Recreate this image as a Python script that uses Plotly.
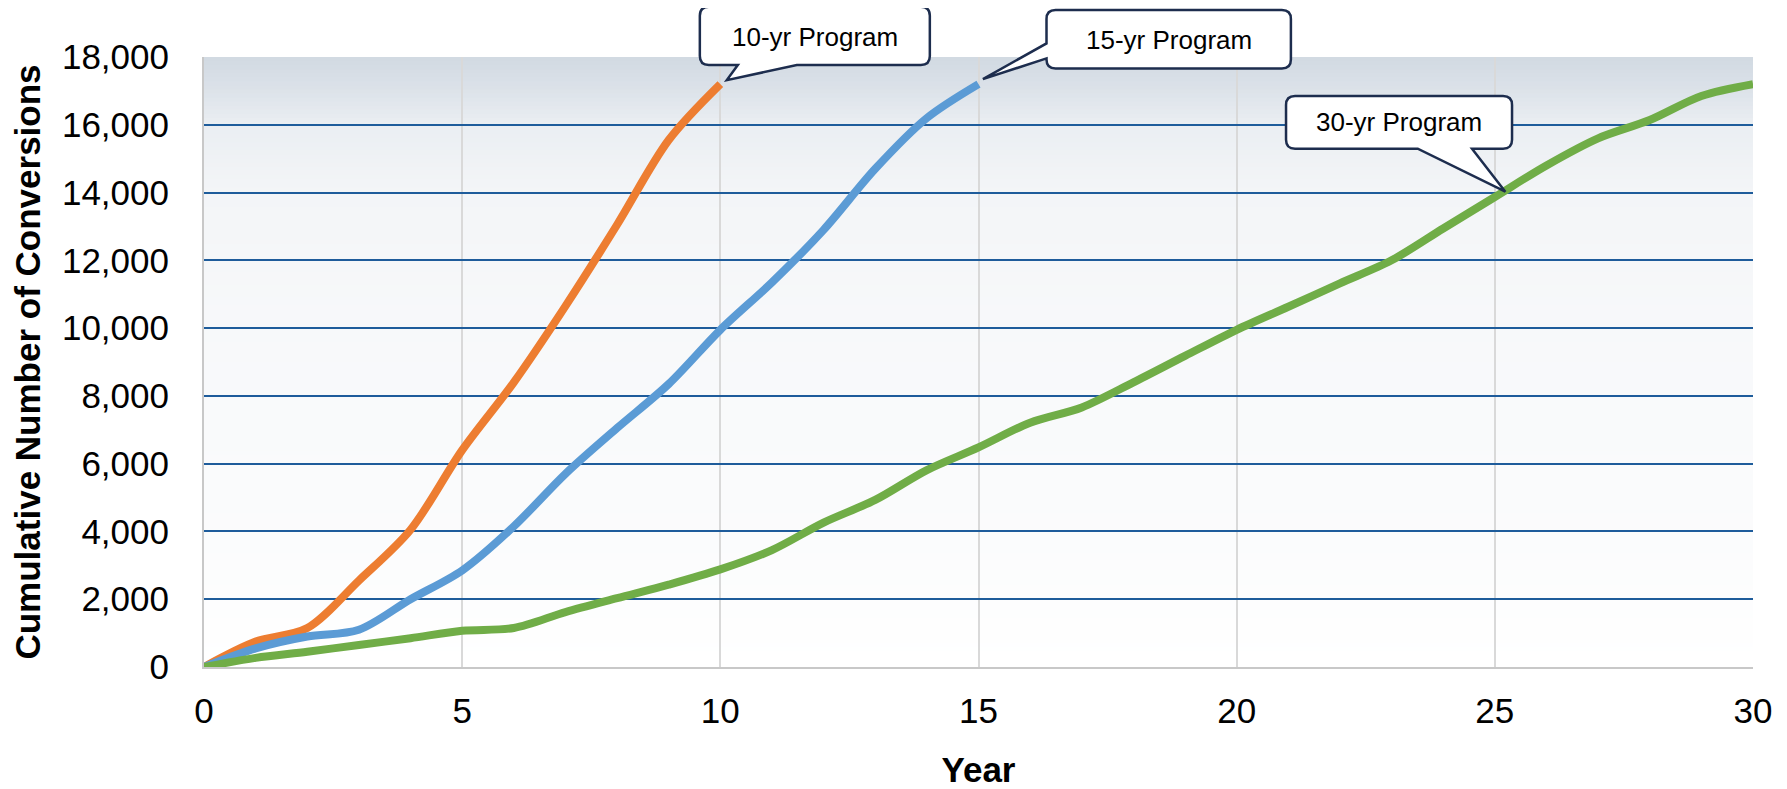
import plotly.graph_objects as go

# ---------------- data ----------------
years_10 = list(range(0, 11))
years_15 = list(range(0, 16))
years_30 = list(range(0, 31))

conv_10 = [0, 750, 1150, 2550, 4050, 6400, 8400, 10650, 13050, 15550, 17200]
conv_15 = [0, 550, 900, 1100, 2000, 2850, 4150, 5700, 7050, 8350, 9950,
           11350, 12900, 14700, 16200, 17200]
conv_30 = [0, 270, 450, 650, 850, 1070, 1150, 1620, 2030, 2430, 2880,
           3450, 4260, 4930, 5810, 6480, 7210, 7660, 8400, 9180, 9950,
           10630, 11320, 12000, 12940, 13870, 14800, 15600, 16140, 16850, 17200]

series_names = ["10-yr Program", "15-yr Program", "30-yr Program"]
series_colors = ["#ED7D31", "#5B9BD5", "#70AD47"]

x_ticks = [0, 5, 10, 15, 20, 25, 30]
y_ticks = [0, 2000, 4000, 6000, 8000, 10000, 12000, 14000, 16000, 18000]

x_title = "Year"
y_title = "Cumulative Number of Conversions"

X_MIN, X_MAX = x_ticks[0], x_ticks[-1]
Y_MIN, Y_MAX = y_ticks[0], y_ticks[-1]

FONT = "Arial, Liberation Sans, sans-serif"

# the page body has a default 8px margin: size the figure so it fits the window
PAGE_PAD = 8
FIG_W, FIG_H = 1787 - PAGE_PAD, 789 - PAGE_PAD

fig = go.Figure()

for xs, ys, name, col in zip([years_10, years_15, years_30],
                             [conv_10, conv_15, conv_30],
                             series_names, series_colors):
    fig.add_trace(go.Scatter(
        x=xs, y=ys, mode="lines", name=name,
        line=dict(color=col, width=8, shape="spline", smoothing=0.9),
        hoverinfo="x+y+name",
    ))

shapes = []

# ---------------- plot-area vertical gradient (background) ----------------
top_rgb = (209, 217, 226)
stops = [(0.0, 1.0), (0.05, 0.78), (0.11, 0.45), (0.22, 0.26),
         (0.44, 0.17), (0.78, 0.09), (1.0, 0.0)]


def fac(t):
    for (t0, f0), (t1, f1) in zip(stops[:-1], stops[1:]):
        if t0 <= t <= t1:
            return f0 + (f1 - f0) * (t - t0) / (t1 - t0)
    return 0.0


N = 150
for i in range(N):
    y0 = i / N
    y1 = (i + 1) / N
    t = 1 - (y0 + y1) / 2  # 0 at top
    f = fac(t)
    c = tuple(round(255 - (255 - tc) * f) for tc in top_rgb)
    shapes.append(dict(
        type="rect", xref="paper", yref="paper", x0=0, x1=1,
        y0=y0, y1=min(1, y1 + 0.002), layer="below",
        fillcolor="rgb(%d,%d,%d)" % c, line=dict(width=0),
    ))


# ---------------- callouts ----------------
def bubble(x0, x1, y0, y1, r, edge, w1, w2, tip):
    tx, ty = tip
    p = ["M%g,%g" % (x0 + r, y1), "L%g,%g" % (x1 - r, y1),
         "Q%g,%g %g,%g" % (x1, y1, x1, y1 - r), "L%g,%g" % (x1, y0 + r),
         "Q%g,%g %g,%g" % (x1, y0, x1 - r, y0)]
    if edge == "bottom":
        p += ["L%g,%g" % (w2, y0), "L%g,%g" % (tx, ty), "L%g,%g" % (w1, y0)]
    p += ["L%g,%g" % (x0 + r, y0), "Q%g,%g %g,%g" % (x0, y0, x0, y0 + r)]
    if edge == "left":
        p += ["L%g,%g" % (x0, w1), "L%g,%g" % (tx, ty), "L%g,%g" % (x0, w2)]
    p += ["L%g,%g" % (x0, y1 - r), "Q%g,%g %g,%g" % (x0, y1, x0 + r, y1), "Z"]
    return " ".join(p)


callouts = [
    dict(ax=years_10[-1], ay=conv_10[-1], box=(-20.5, 209.5, 19, 77.3),
         edge="bottom", w=(17.5, 76.5), tip=(6.5, 4), txt=(94.5, 47.5),
         text=series_names[0]),
    dict(ax=years_15[-1], ay=conv_15[-1], box=(68, 312.4, 15.5, 74),
         edge="left", w=(25.7, 40.7), tip=(4.4, 5), txt=(190.4, 44.5),
         text=series_names[1]),
    dict(ax=years_30[25], ay=conv_30[25], box=(-208.8, 17.2, 48.3, 101),
         edge="bottom", w=(-77.1, -22.8), tip=(10.5, 5.3), txt=(-96, 74.5),
         text=series_names[2]),
]

annotations = []
for c in callouts:
    px = (c["ax"] - X_MIN) / (X_MAX - X_MIN)
    py = (c["ay"] - Y_MIN) / (Y_MAX - Y_MIN)
    bx0, bx1, by0, by1 = c["box"]
    shapes.append(dict(
        type="path", xref="paper", yref="paper",
        xsizemode="pixel", ysizemode="pixel", xanchor=px, yanchor=py,
        path=bubble(bx0, bx1, by0, by1, 9, c["edge"], c["w"][0], c["w"][1], c["tip"]),
        fillcolor="white", line=dict(color="#1d2d4e", width=2.5), layer="above",
    ))
    annotations.append(dict(
        xref="paper", yref="paper", x=px, y=py,
        xshift=c["txt"][0], yshift=c["txt"][1],
        xanchor="center", yanchor="middle", showarrow=False,
        text=c["text"], font=dict(family=FONT, size=26, color="#000000"),
    ))

fig.update_layout(
    width=FIG_W, height=FIG_H,
    margin=dict(l=204 - PAGE_PAD, r=34, t=57 - PAGE_PAD, b=122, autoexpand=False),
    paper_bgcolor="white", plot_bgcolor="white",
    showlegend=False,
    shapes=shapes, annotations=annotations,
    font=dict(family=FONT, color="#000000"),
)

fig.update_xaxes(
    range=[X_MIN, X_MAX], tickvals=x_ticks, ticks="",
    showgrid=True, gridcolor="#d9d9d9", gridwidth=1.5,
    showline=True, linecolor="#c8c8c8", linewidth=2, zeroline=False,
    tickfont=dict(family=FONT, size=35, color="#000000"),
    ticklabelstandoff=12,
    title=dict(text=x_title, font=dict(family=FONT, size=35, color="#000000", weight="bold"),
               standoff=28),
)
fig.update_yaxes(
    range=[Y_MIN, Y_MAX], tickvals=y_ticks, tickformat=",d", ticks="",
    showgrid=True, gridcolor="#1e5c9b", gridwidth=2,
    showline=True, linecolor="#c8c8c8", linewidth=2, zeroline=False,
    tickfont=dict(family=FONT, size=35, color="#000000"),
    ticklabelstandoff=26,
    title=dict(text=y_title, font=dict(family=FONT, size=35, color="#000000", weight="bold"),
               standoff=19),
)

fig.write_html("out.html")
